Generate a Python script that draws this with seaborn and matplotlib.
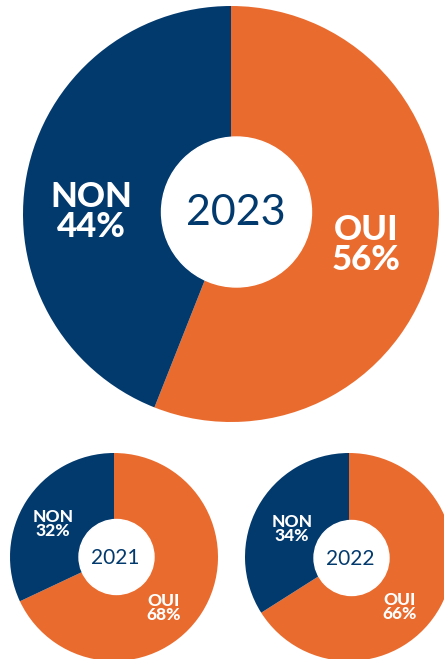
import matplotlib
matplotlib.use("Agg")
import matplotlib.pyplot as plt
import seaborn as sns

# data
years = ["2023", "2021", "2022"]
answers = ["OUI", "NON"]
oui_pct = [56, 68, 66]
non_pct = [44, 32, 34]

sns.set_theme(style="white")
plt.rcParams['font.family'] = ['Lato', 'DejaVu Sans']

navy = "#033A6E"
orange = "#EA6B2E"
palette = sns.color_palette([orange, navy])

fig = plt.figure(figsize=(4.44, 6.59), dpi=100)
ax = fig.add_axes([0, 0, 1, 1])

H = 659
# layout in pixels (top-down y): pie center, radius, hole center, hole radius, font sizes
layout = {
    "2023": dict(c=(231, 214), r=208, hole=(236.5, 212), hr=75, big=25, yr=31,
                 non_xy=(91, 212), oui_xy=(366, 245)),
    "2021": dict(c=(114, 557), r=104, hole=(116.5, 557), hr=37.5, big=12.5, yr=15,
                 non_xy=(53, 524), oui_xy=(164, 608)),
    "2022": dict(c=(349, 557), r=104, hole=(351.5, 558), hr=37.5, big=12.5, yr=15,
                 non_xy=(292, 529), oui_xy=(400, 607)),
}

for year, oui, non in zip(years, oui_pct, non_pct):
    L = layout[year]
    cx, cy = L["c"]
    ax.pie([oui, non], colors=palette, startangle=90, counterclock=False,
           center=(cx, H - cy), radius=L["r"], frame=True,
           wedgeprops=dict(linewidth=0))
    hx, hy = L["hole"]
    ax.add_patch(plt.Circle((hx, H - hy), L["hr"], color="white", zorder=3))
    ax.text(hx - 1, H - hy - 1, year, ha="center", va="center", color=navy,
            fontsize=L["yr"], zorder=4)
    for name, val, key in [("NON", non, "non_xy"), ("OUI", oui, "oui_xy")]:
        tx, ty = L[key]
        ax.text(tx, H - ty, f"{name}\n{val}%", ha="center", va="center",
                color="white", fontsize=L["big"], fontweight="black",
                linespacing=0.9, zorder=4)

ax.set_xlim(0, 444)
ax.set_ylim(0, H)
ax.set_aspect("auto")
ax.axis("off")

fig.savefig("out.png", dpi=100)
